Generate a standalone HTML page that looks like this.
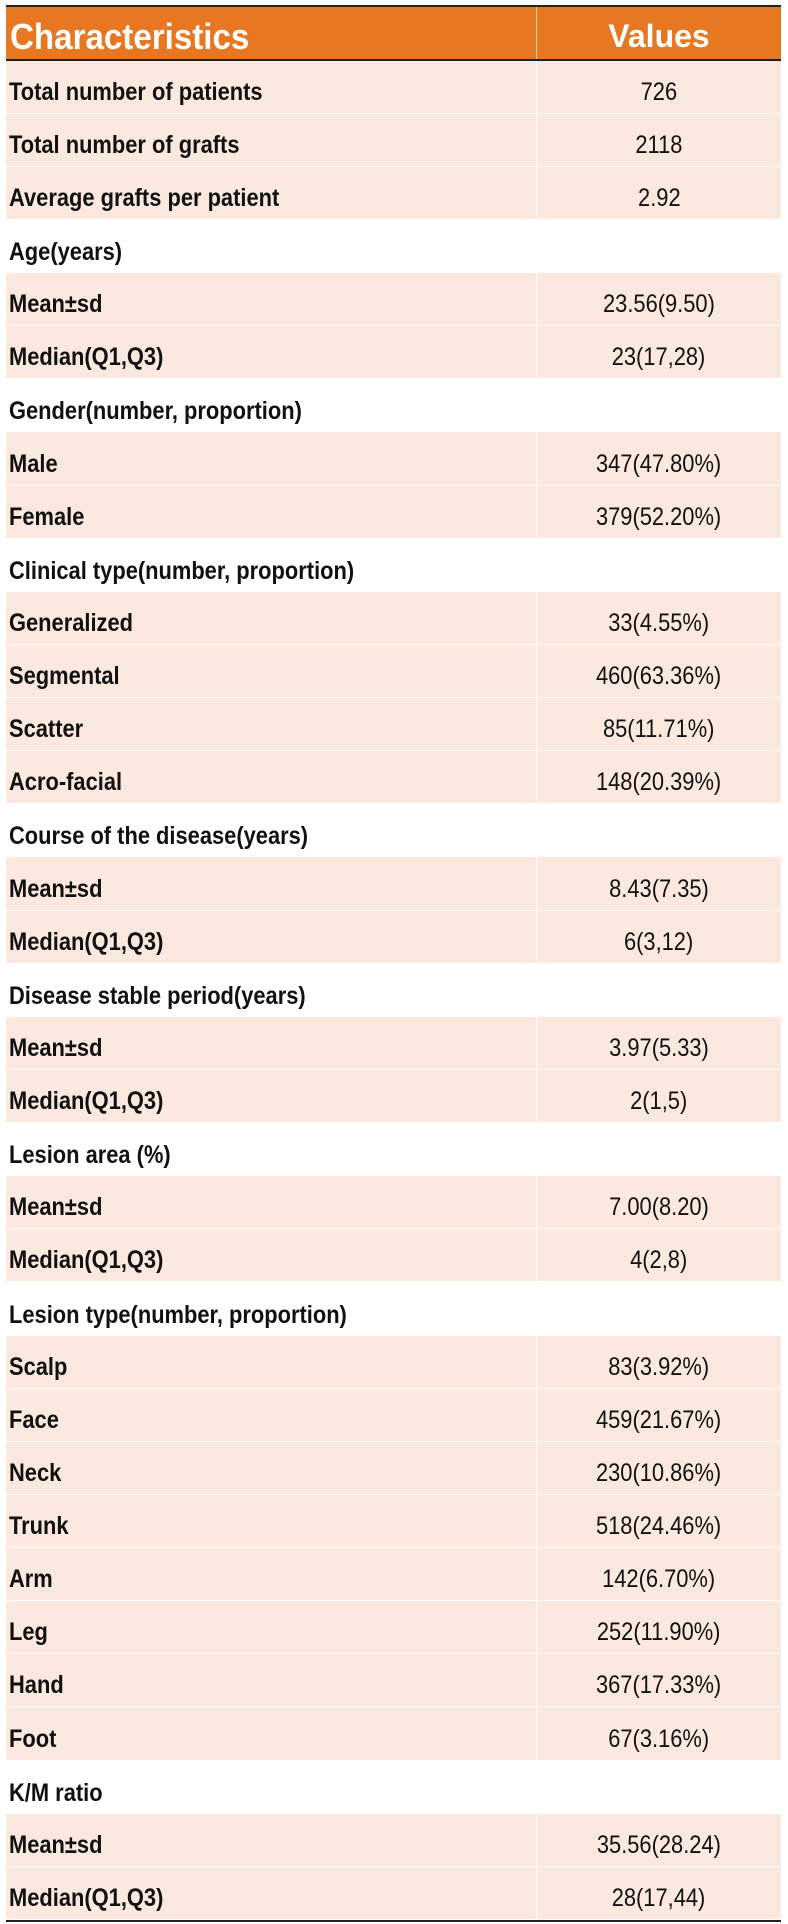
<!DOCTYPE html>
<html><head><meta charset="utf-8"><style>
html,body{margin:0;padding:0;background:#fff;width:788px;height:1924px;overflow:hidden}
body{font-family:"Liberation Sans",Arial,sans-serif}
.t{position:absolute;left:6px;top:5px;width:775px}
.top{height:1.5px;background:#222}
.hd{height:52px;background:#E87722;display:flex;color:#fff;font-weight:bold;font-size:32px;position:relative}
.hd .a{width:531px;padding-left:4px;line-height:60px;box-sizing:border-box;border-right:1px solid #f4c9a8}
.hd .a span{display:inline-block;font-size:36px;transform:scaleX(0.92);transform-origin:left}
.hd .b{flex:1;text-align:center;line-height:58px}
.ln{height:2px;background:#222}
.r{height:53.14px;display:flex;align-items:flex-end;box-sizing:border-box;font-size:25px;color:#111}
.r.s{background:#FBE9DF;border-bottom:1.5px solid #fff}
.r .a{width:531px;padding-left:3px;font-weight:bold;box-sizing:border-box;height:100%;display:flex;align-items:flex-end;padding-bottom:6px}
.r.s .a{border-right:1.5px solid #fff}
.r .b{flex:1;text-align:center;padding-bottom:6px}
.r .a span{display:inline-block;transform:scaleX(0.875);transform-origin:left}
.r .b span{display:inline-block;transform:scaleX(0.875)}
.bot{height:2px;background:#222}
</style></head><body>
<div class="t">
<div class="top"></div>
<div class="hd"><div class="a"><span>Characteristics</span></div><div class="b">Values</div></div>
<div class="ln"></div>
<div class="r s"><div class="a"><span>Total number of patients</span></div><div class="b"><span>726</span></div></div>
<div class="r s"><div class="a"><span>Total number of grafts</span></div><div class="b"><span>2118</span></div></div>
<div class="r s"><div class="a"><span>Average grafts per patient</span></div><div class="b"><span>2.92</span></div></div>
<div class="r"><div class="a"><span>Age(years)</span></div><div class="b"></div></div>
<div class="r s"><div class="a"><span>Mean±sd</span></div><div class="b"><span>23.56(9.50)</span></div></div>
<div class="r s"><div class="a"><span>Median(Q1,Q3)</span></div><div class="b"><span>23(17,28)</span></div></div>
<div class="r"><div class="a"><span>Gender(number, proportion)</span></div><div class="b"></div></div>
<div class="r s"><div class="a"><span>Male</span></div><div class="b"><span>347(47.80%)</span></div></div>
<div class="r s"><div class="a"><span>Female</span></div><div class="b"><span>379(52.20%)</span></div></div>
<div class="r"><div class="a"><span>Clinical type(number, proportion)</span></div><div class="b"></div></div>
<div class="r s"><div class="a"><span>Generalized</span></div><div class="b"><span>33(4.55%)</span></div></div>
<div class="r s"><div class="a"><span>Segmental</span></div><div class="b"><span>460(63.36%)</span></div></div>
<div class="r s"><div class="a"><span>Scatter</span></div><div class="b"><span>85(11.71%)</span></div></div>
<div class="r s"><div class="a"><span>Acro-facial</span></div><div class="b"><span>148(20.39%)</span></div></div>
<div class="r"><div class="a"><span>Course of the disease(years)</span></div><div class="b"></div></div>
<div class="r s"><div class="a"><span>Mean±sd</span></div><div class="b"><span>8.43(7.35)</span></div></div>
<div class="r s"><div class="a"><span>Median(Q1,Q3)</span></div><div class="b"><span>6(3,12)</span></div></div>
<div class="r"><div class="a"><span>Disease stable period(years)</span></div><div class="b"></div></div>
<div class="r s"><div class="a"><span>Mean±sd</span></div><div class="b"><span>3.97(5.33)</span></div></div>
<div class="r s"><div class="a"><span>Median(Q1,Q3)</span></div><div class="b"><span>2(1,5)</span></div></div>
<div class="r"><div class="a"><span>Lesion area (%)</span></div><div class="b"></div></div>
<div class="r s"><div class="a"><span>Mean±sd</span></div><div class="b"><span>7.00(8.20)</span></div></div>
<div class="r s"><div class="a"><span>Median(Q1,Q3)</span></div><div class="b"><span>4(2,8)</span></div></div>
<div class="r"><div class="a"><span>Lesion type(number, proportion)</span></div><div class="b"></div></div>
<div class="r s"><div class="a"><span>Scalp</span></div><div class="b"><span>83(3.92%)</span></div></div>
<div class="r s"><div class="a"><span>Face</span></div><div class="b"><span>459(21.67%)</span></div></div>
<div class="r s"><div class="a"><span>Neck</span></div><div class="b"><span>230(10.86%)</span></div></div>
<div class="r s"><div class="a"><span>Trunk</span></div><div class="b"><span>518(24.46%)</span></div></div>
<div class="r s"><div class="a"><span>Arm</span></div><div class="b"><span>142(6.70%)</span></div></div>
<div class="r s"><div class="a"><span>Leg</span></div><div class="b"><span>252(11.90%)</span></div></div>
<div class="r s"><div class="a"><span>Hand</span></div><div class="b"><span>367(17.33%)</span></div></div>
<div class="r s"><div class="a"><span>Foot</span></div><div class="b"><span>67(3.16%)</span></div></div>
<div class="r"><div class="a"><span>K/M ratio</span></div><div class="b"></div></div>
<div class="r s"><div class="a"><span>Mean±sd</span></div><div class="b"><span>35.56(28.24)</span></div></div>
<div class="r s"><div class="a"><span>Median(Q1,Q3)</span></div><div class="b"><span>28(17,44)</span></div></div>
<div class="bot"></div>
</div>
</body></html>
